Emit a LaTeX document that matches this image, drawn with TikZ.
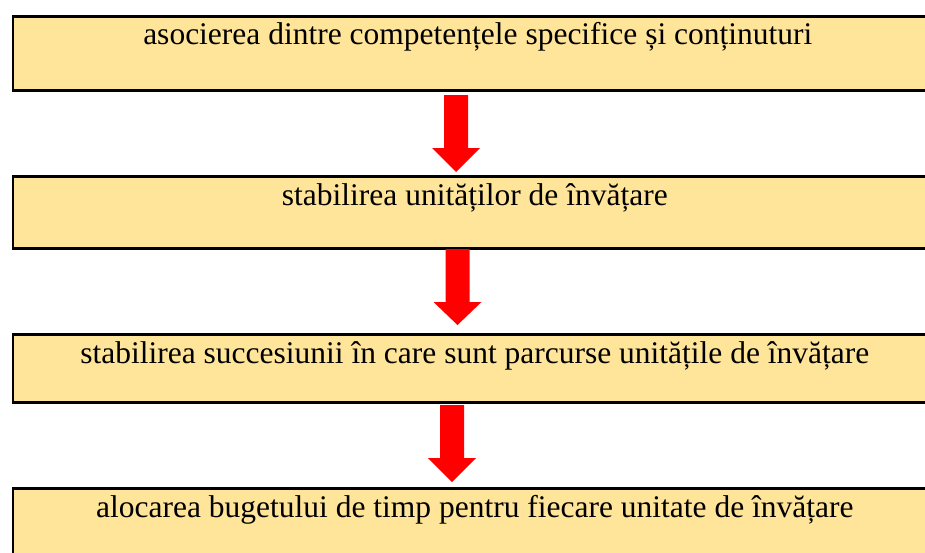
\documentclass[tikz,border=0pt]{standalone}
\usepackage{fontspec}
\setmainfont{Liberation Serif}
\definecolor{boxfill}{HTML}{FFE599}
\definecolor{arrred}{HTML}{FF0000}
\begin{document}
\begin{tikzpicture}[x=1pt,y=-1pt,
  stepbox/.style={draw=black,line width=2.6pt,fill=boxfill,rectangle,inner sep=0pt,
    minimum width=924pt,anchor=north west},
  steptext/.style={anchor=base,font=\fontsize{31.5}{36}\selectfont,inner sep=0pt},
  blockarrow/.style={fill=arrred,draw=none}]
\useasboundingbox (0,0) rectangle (925,552);
\clip (0,0) rectangle (925,552);
\fill[white] (0,0) rectangle (925,552);
\node[stepbox,minimum height=74pt] (b1) at (11.5,15) {};
\node[stepbox,minimum height=72pt] (b2) at (11.5,175) {};
\node[stepbox,minimum height=68pt] (b3) at (11.5,333) {};
\node[stepbox,minimum height=72pt] (b4) at (11.5,487) {};
\node[steptext] (t1) at ([xshift=3pt,yshift=-29pt]b1.north) {asocierea dintre competențele specifice și conținuturi};
\node[steptext] (t2) at ([yshift=-30pt]b2.north) {stabilirea unităților de învățare};
\node[steptext] (t3) at ([yshift=-30pt]b3.north) {stabilirea succesiunii în care sunt parcurse unitățile de învățare};
\node[steptext] (t4) at ([yshift=-30pt]b4.north) {alocarea bugetului de timp pentru fiecare unitate de învățare};
% block arrows
\fill[blockarrow] (444,95) -- (468,95) -- (468,148) -- (480,148) -- (456,172) -- (432,148) -- (444,148) -- cycle;
\fill[blockarrow] (445.5,249) -- (469.5,249) -- (469.5,302) -- (481.5,302) -- (457.5,325) -- (433.5,302) -- (445.5,302) -- cycle;
\fill[blockarrow] (440,405) -- (464,405) -- (464,458) -- (476,458) -- (452,482) -- (428,458) -- (440,458) -- cycle;
\end{tikzpicture}
\end{document}
